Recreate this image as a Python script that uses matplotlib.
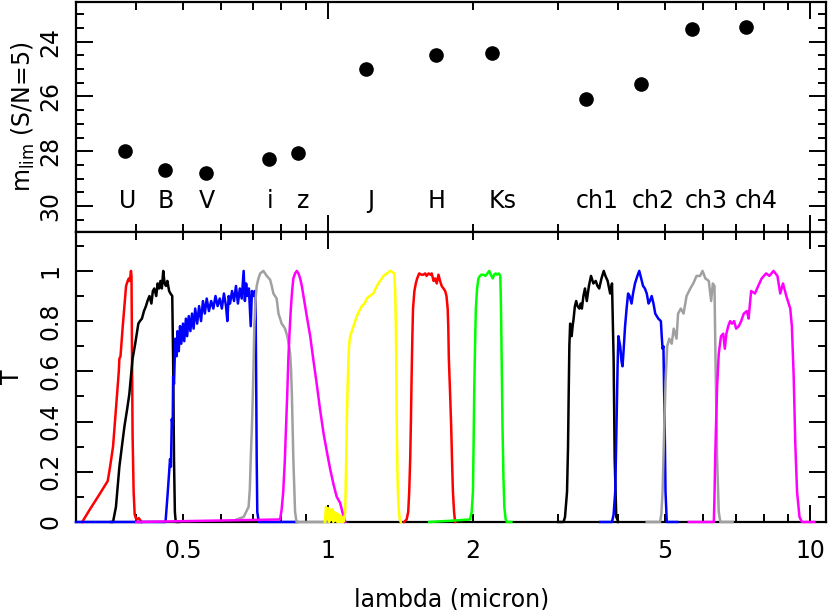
import numpy as np
import matplotlib
matplotlib.use("Agg")
import matplotlib.pyplot as plt
from matplotlib.ticker import FixedLocator, FixedFormatter

# --- top panel: 5 sigma limiting magnitudes ---
bands = ['U', 'B', 'V', 'i', 'z', 'J', 'H', 'Ks', 'ch1', 'ch2', 'ch3', 'ch4']
lam_pt = [0.379, 0.459, 0.558, 0.755, 0.867, 1.20, 1.675, 2.19, 3.43, 4.46, 5.69, 7.37]
mlim = [28.0, 28.7, 28.8, 28.3, 28.05, 25.0, 24.5, 24.43, 26.1, 25.55, 23.55, 23.45]
lam_label = [0.383, 0.461, 0.561, 0.758, 0.887, 1.228, 1.675, 2.296, 3.614, 4.72, 6.08, 7.73]
mag_label = 29.82

# --- bottom panel: filter transmission curves ---
lam_U = [0.309, 0.320, 0.335, 0.349, 0.353, 0.358, 0.362, 0.366, 0.368, 0.369, 0.371, 0.375, 0.378,
         0.381, 0.384, 0.386, 0.388, 0.390, 0.391, 0.392, 0.393, 0.395, 0.397, 0.400, 0.405, 0.410]
T_U = [0.0, 0.048, 0.108, 0.163, 0.22, 0.30, 0.42, 0.54, 0.60, 0.65, 0.66, 0.78, 0.86,
       0.94, 0.96, 0.97, 0.96, 1.0, 0.98, 0.65, 0.35, 0.12, 0.03, 0.01, 0.015, 0.0]

lam_B = [0.355, 0.358, 0.363, 0.369, 0.374, 0.378, 0.383, 0.387, 0.393, 0.398, 0.404, 0.407, 0.411,
         0.415, 0.419, 0.422, 0.426, 0.430, 0.433, 0.436, 0.440, 0.443, 0.446, 0.449, 0.452, 0.455,
         0.458, 0.461, 0.464, 0.468, 0.471, 0.475, 0.477, 0.479, 0.481, 0.483, 0.486, 0.49]
T_B = [0.0, 0.0, 0.06, 0.22, 0.31, 0.38, 0.45, 0.51, 0.65, 0.71, 0.79, 0.80, 0.81,
       0.84, 0.86, 0.88, 0.90, 0.87, 0.92, 0.93, 0.90, 0.95, 0.93, 0.96, 0.93, 1.0,
       0.95, 0.94, 0.96, 0.92, 0.91, 0.90, 0.65, 0.25, 0.04, 0.0, 0.0, 0.0]

lam_V = [0.300, 0.460, 0.465, 0.470, 0.472, 0.474, 0.476, 0.477, 0.479, 0.482, 0.485, 0.487, 0.490,
         0.493, 0.496, 0.500, 0.503, 0.507, 0.510, 0.514, 0.518, 0.522, 0.526, 0.530, 0.535, 0.540,
         0.545, 0.550, 0.555, 0.560, 0.566, 0.572, 0.578, 0.584, 0.590, 0.596, 0.602, 0.608, 0.614,
         0.618, 0.622, 0.626, 0.632, 0.638, 0.644, 0.650, 0.656, 0.662, 0.668, 0.672, 0.676, 0.680,
         0.685, 0.691, 0.695, 0.700, 0.704, 0.707, 0.709, 0.711, 0.713, 0.718, 0.86]
T_V = [0.0, 0.0, 0.12, 0.25, 0.22, 0.41, 0.38, 0.58, 0.55, 0.73, 0.66, 0.76, 0.68,
       0.78, 0.71, 0.79, 0.72, 0.81, 0.74, 0.82, 0.76, 0.83, 0.77, 0.85, 0.79, 0.86,
       0.80, 0.88, 0.83, 0.89, 0.84, 0.88, 0.85, 0.90, 0.86, 0.89, 0.85, 0.91, 0.86,
       0.80, 0.90, 0.87, 0.92, 0.88, 0.94, 0.87, 0.93, 0.89, 1.0, 0.88, 0.95, 0.90,
       0.93, 0.78, 0.92, 0.90, 0.92, 0.90, 0.60, 0.25, 0.04, 0.0, 0.0]

lam_i = [0.646, 0.668, 0.684, 0.688, 0.691, 0.695, 0.698, 0.701, 0.703, 0.707, 0.711, 0.717, 0.723,
         0.734, 0.746, 0.758, 0.764, 0.770, 0.776, 0.782, 0.789, 0.795, 0.801, 0.808, 0.814, 0.823,
         0.830, 0.834, 0.838, 0.841, 0.847, 0.854, 0.860, 1.00]
T_i = [0.01, 0.02, 0.06, 0.13, 0.25, 0.38, 0.51, 0.66, 0.78, 0.88, 0.94, 0.97, 0.99,
       1.0, 0.98, 0.965, 0.94, 0.91, 0.90, 0.89, 0.83, 0.81, 0.79, 0.78, 0.77, 0.74,
       0.70, 0.67, 0.60, 0.51, 0.25, 0.04, 0.0, 0.0]

lam_z = [0.40, 0.795, 0.801, 0.807, 0.813, 0.818, 0.823, 0.827, 0.832, 0.837, 0.842, 0.847, 0.854,
         0.861, 0.868, 0.875, 0.882, 0.889, 0.903, 0.918, 0.932, 0.947, 0.962, 0.978, 0.994, 1.01,
         1.026, 1.042, 1.059, 1.072, 1.085]
T_z = [0.0, 0.01, 0.05, 0.12, 0.24, 0.38, 0.52, 0.65, 0.76, 0.85, 0.92, 0.97, 0.99,
       1.0, 0.99, 0.97, 0.94, 0.90, 0.82, 0.74, 0.645, 0.55, 0.45, 0.355, 0.28, 0.21,
       0.15, 0.10, 0.076, 0.035, 0.0]

lam_J = [0.985, 0.99, 0.995, 1.0, 1.005, 1.01, 1.015, 1.02, 1.025, 1.03, 1.035, 1.04, 1.045,
         1.05, 1.055, 1.06, 1.065, 1.07, 1.075, 1.08, 1.085, 1.089, 1.093, 1.098, 1.102, 1.106,
         1.111, 1.12, 1.129, 1.138, 1.147, 1.16, 1.175, 1.19, 1.203, 1.22, 1.241, 1.255, 1.271,
         1.287, 1.303, 1.325, 1.345, 1.360, 1.371, 1.377, 1.382, 1.385, 1.388, 1.394, 1.40, 1.408, 1.415]
T_J = [0.0, 0.06, 0.01, 0.055, 0.0, 0.05, 0.01, 0.05, 0.0, 0.04, 0.005, 0.035, 0.0,
       0.03, 0.0, 0.025, 0.0, 0.02, 0.0, 0.01, 0.04, 0.2, 0.38, 0.55, 0.65, 0.71,
       0.74, 0.76, 0.78, 0.80, 0.82, 0.84, 0.86, 0.87, 0.89, 0.90, 0.91, 0.93, 0.95,
       0.965, 0.98, 0.99, 1.0, 0.995, 0.99, 0.93, 0.78, 0.60, 0.38, 0.15, 0.06, 0.01, 0.0]

lam_H = [1.437, 1.455, 1.466, 1.473, 1.48, 1.485, 1.49, 1.495, 1.50, 1.51, 1.52, 1.53, 1.545,
         1.56, 1.576, 1.59, 1.60, 1.616, 1.63, 1.64, 1.655, 1.667, 1.68, 1.694, 1.707, 1.72,
         1.735, 1.749, 1.76, 1.77, 1.775, 1.78, 1.79, 1.80, 1.807, 1.815, 1.825, 1.834]
T_H = [0.0, 0.01, 0.04, 0.12, 0.25, 0.40, 0.58, 0.73, 0.85, 0.92, 0.95, 0.97, 0.99,
       0.985, 0.985, 0.99, 0.98, 0.99, 0.985, 0.99, 0.96, 0.97, 0.95, 0.985, 0.96, 0.94,
       0.93, 0.92, 0.90, 0.85, 0.78, 0.65, 0.52, 0.38, 0.25, 0.12, 0.04, 0.0]

lam_K = [1.62, 1.80, 1.97, 1.985, 1.997, 2.003, 2.009, 2.017, 2.025, 2.037, 2.05, 2.065, 2.08,
         2.10, 2.12, 2.14, 2.158, 2.175, 2.195, 2.21, 2.226, 2.24, 2.26, 2.275, 2.281, 2.286,
         2.293, 2.30, 2.31, 2.32, 2.335, 2.35, 2.40]
T_K = [0.0, 0.005, 0.01, 0.04, 0.12, 0.30, 0.51, 0.70, 0.85, 0.93, 0.97, 0.98, 0.985,
       0.985, 0.98, 0.99, 1.0, 0.985, 0.97, 0.985, 0.99, 0.985, 0.99, 0.98, 0.90, 0.78,
       0.58, 0.38, 0.18, 0.06, 0.01, 0.0, 0.0]

lam_c1 = [3.0, 3.078, 3.10, 3.13, 3.145, 3.155, 3.165, 3.177, 3.19, 3.20, 3.215, 3.23, 3.25,
          3.27, 3.29, 3.32, 3.34, 3.36, 3.385, 3.41, 3.44, 3.475, 3.51, 3.55, 3.59, 3.62,
          3.65, 3.69, 3.73, 3.76, 3.80, 3.846, 3.88, 3.895, 3.91, 3.93, 3.96, 4.0]
T_c1 = [0.0, 0.0, 0.02, 0.12, 0.30, 0.51, 0.70, 0.79, 0.77, 0.74, 0.78, 0.81, 0.86,
        0.88, 0.86, 0.85, 0.87, 0.85, 0.90, 0.93, 0.88, 0.94, 0.98, 0.95, 0.96, 0.94,
        0.93, 0.97, 1.0, 0.98, 0.96, 0.91, 0.95, 0.80, 0.65, 0.25, 0.02, 0.0]

lam_c2 = [3.667, 3.88, 3.91, 3.94, 3.955, 3.97, 3.985, 4.0, 4.035, 4.06, 4.08, 4.10, 4.13,
          4.16, 4.19, 4.22, 4.26, 4.29, 4.33, 4.38, 4.42, 4.46, 4.50, 4.54, 4.58, 4.62,
          4.65, 4.69, 4.73, 4.77, 4.84, 4.90, 4.92, 4.94, 4.96, 4.99, 5.01, 5.04, 5.30]
T_c2 = [0.0, 0.0, 0.03, 0.12, 0.28, 0.45, 0.62, 0.74, 0.70, 0.64, 0.62, 0.68, 0.78,
        0.85, 0.91, 0.90, 0.87, 0.91, 0.95, 0.98, 1.0, 0.97, 0.94, 0.93, 0.91, 0.87,
        0.88, 0.90, 0.87, 0.83, 0.81, 0.80, 0.74, 0.69, 0.70, 0.38, 0.12, 0.0, 0.0]

lam_c3 = [4.58, 4.88, 4.91, 4.94, 4.98, 5.01, 5.05, 5.10, 5.16, 5.21, 5.28, 5.32, 5.39, 5.46,
          5.54, 5.64, 5.72, 5.81, 5.91, 5.98, 6.06, 6.16, 6.23, 6.28, 6.33, 6.36, 6.41, 6.46,
          6.51, 6.90]
T_c3 = [0.0, 0.0, 0.03, 0.12, 0.38, 0.555, 0.70, 0.73, 0.71, 0.77, 0.73, 0.83, 0.85, 0.83,
        0.90, 0.93, 0.95, 0.98, 0.98, 1.0, 0.97, 0.96, 0.88, 0.95, 0.94, 0.65, 0.25, 0.04,
        0.0, 0.0]

lam_c4 = [5.6, 6.31, 6.33, 6.35, 6.38, 6.41, 6.46, 6.53, 6.60, 6.65, 6.70, 6.76, 6.82, 6.88,
          6.95, 7.02, 7.11, 7.19, 7.28, 7.39, 7.45, 7.54, 7.68, 7.80, 7.93, 8.10, 8.23, 8.39,
          8.55, 8.665, 8.78, 8.92, 9.09, 9.16, 9.24, 9.31, 9.39, 9.5, 9.61, 10.2]
T_c4 = [0.0, 0.0, 0.10, 0.25, 0.40, 0.54, 0.67, 0.74, 0.75, 0.69, 0.75, 0.78, 0.80, 0.79,
        0.80, 0.77, 0.78, 0.80, 0.83, 0.84, 0.81, 0.92, 0.91, 0.94, 0.97, 0.99, 0.98, 1.0,
        0.98, 0.91, 0.95, 0.90, 0.85, 0.78, 0.58, 0.315, 0.12, 0.02, 0.0, 0.0]

curves = [(lam_U, T_U, '#ff0000'), (lam_B, T_B, '#000000'), (lam_V, T_V, '#0000ff'),
          (lam_i, T_i, '#a0a0a0'), (lam_z, T_z, '#ff00ff'), (lam_J, T_J, '#ffff00'),
          (lam_H, T_H, '#ff0000'), (lam_K, T_K, '#00ff00'), (lam_c1, T_c1, '#000000'),
          (lam_c2, T_c2, '#0000ff'), (lam_c3, T_c3, '#a0a0a0'), (lam_c4, T_c4, '#ff00ff')]

fs = 17
plt.rcParams['font.family'] = 'DejaVu Sans'
plt.rcParams['font.size'] = fs

fig = plt.figure(figsize=(8.3, 6.1), dpi=100)
ax1 = fig.add_axes([0.0916, 0.6197, 0.904, 0.3770])
ax2 = fig.add_axes([0.0916, 0.1443, 0.904, 0.4754], sharex=ax1)

ax1.plot(lam_pt, mlim, 'o', color='black', ms=9.5)
for lab, xl in zip(bands, lam_label):
    ax1.text(xl, mag_label, lab, ha='center', va='center', fontsize=fs)

# zero-level parts of the curves sit on the bottom frame, so draw them over it
for lam, T, c in curves:
    ax2.plot(lam, T, color=c, lw=1.8, clip_on=False, zorder=3)

ax2.set_xscale('log')
ax2.set_xlim(0.30, 10.8)
ax1.set_ylim(30.95, 22.55)
ax2.set_ylim(0, 1.155)

major_x = [1, 10]
minor_x = [0.3, 0.4, 0.5, 0.6, 0.7, 0.8, 0.9, 2, 3, 4, 5, 6, 7, 8, 9]
minor_lbl = ['' if v not in (0.5, 2, 5) else ('0.5' if v == 0.5 else str(v)) for v in minor_x]
for ax in (ax1, ax2):
    ax.xaxis.set_major_locator(FixedLocator(major_x))
    ax.xaxis.set_minor_locator(FixedLocator(minor_x))
    for s in ax.spines.values():
        s.set_linewidth(1.6)
    ax.tick_params(which='both', direction='in', top=True, right=True, width=1.4)
    ax.tick_params(which='major', length=12, pad=10)
    ax.tick_params(which='minor', length=6, pad=10)
    ax.tick_params(axis='y', labelrotation=90)

ax2.xaxis.set_major_formatter(FixedFormatter(['1', '10']))
ax2.xaxis.set_minor_formatter(FixedFormatter(minor_lbl))
ax1.tick_params(axis='x', which='both', labelbottom=False)
ax2.tick_params(axis='x', which='both', pad=12)

ax1.set_yticks([24, 26, 28, 30])
ax1.set_yticks(np.arange(23.0, 31.0, 0.5), minor=True)
ax2.set_yticks([0, 0.2, 0.4, 0.6, 0.8, 1.0])
ax2.set_yticklabels(['0', '0.2', '0.4', '0.6', '0.8', '1'])
ax2.set_yticks(np.arange(0.1, 1.15, 0.1), minor=True)
for ax in (ax1, ax2):
    for t in ax.get_yticklabels():
        t.set_va('center')

ax1.set_ylabel(r'm$_{\rm lim}$ (S/N=5)', fontsize=fs)
ax1.yaxis.set_label_coords(-0.052, 0.5)
ax2.set_ylabel('T', fontsize=fs)
ax2.yaxis.set_label_coords(-0.070, 0.5)
ax2.set_xlabel('lambda (micron)', fontsize=fs, labelpad=18)

fig.savefig('out.png', dpi=100)
